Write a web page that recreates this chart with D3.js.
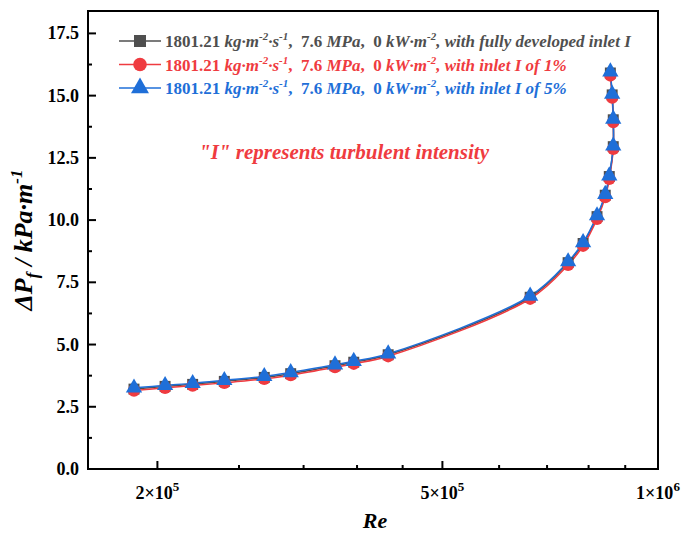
<!DOCTYPE html>
<html>
<head>
<meta charset="utf-8">
<script src="https://cdn.jsdelivr.net/npm/d3@7"></script>
<style>
  body { margin: 0; background: #fff; }
  svg { font-family: "Times New Roman", "Liberation Serif", serif; }
</style>
</head>
<body>
<svg width="683" height="536"></svg>
<script>
// Reynolds number (x) and friction pressure drop (y, kPa/m)
const re = [1.855e5, 2.05e5, 2.24e5, 2.48e5, 2.82e5, 3.07e5, 3.54e5, 3.76e5, 4.2e5,
            6.63e5, 7.49e5, 7.86e5, 8.22e5, 8.44e5, 8.55e5, 8.66e5, 8.66e5, 8.63e5, 8.58e5];
const dpFully = [3.21, 3.32, 3.40, 3.52, 3.68, 3.83, 4.15, 4.29, 4.59,
                 6.90, 8.29, 9.06, 10.14, 11.0, 11.75, 12.95, 14.03, 15.03, 15.91];
const dpI1 = [3.15, 3.26, 3.35, 3.46, 3.62, 3.77, 4.09, 4.23, 4.53,
              6.84, 8.20, 8.97, 10.05, 10.92, 11.66, 12.86, 13.94, 14.92, 15.81];
const dpI5 = [3.26, 3.36, 3.44, 3.56, 3.72, 3.88, 4.19, 4.33, 4.63,
              6.95, 8.33, 9.10, 10.18, 11.04, 11.78, 12.98, 14.06, 15.06, 15.96];

const xTicks = [2e5, 5e5, 1e6];
const xMinor = [2.6e5, 3.2e5, 3.8e5, 4.4e5, 6e5, 7e5, 8e5, 9e5];
const yTicks = [0, 2.5, 5, 7.5, 10, 12.5, 15, 17.5];

const legendTail = ["with fully developed inlet I", "with inlet I of 1%", "with inlet I of 5%"];

const series = [
  { y: dpFully, color: "#4f4f4f", symbol: d3.symbolSquare, size: 120, tail: legendTail[0] },
  { y: dpI1, color: "#ef3b40", symbol: d3.symbolCircle, size: 120, tail: legendTail[1] },
  { y: dpI5, color: "#1f6fd8", symbol: d3.symbolTriangle, size: 115, tail: legendTail[2] }
];

const svg = d3.select("svg");
const pLeft = 88, pRight = 658, pTop = 11, pBottom = 469;

const x = d3.scaleLog().domain([1.6e5, 1e6]).range([pLeft, pRight]);
const y = d3.scaleLinear().domain([0, 18.4]).range([pBottom, pTop]);

// frame
svg.append("rect")
  .attr("x", pLeft).attr("y", pTop)
  .attr("width", pRight - pLeft).attr("height", pBottom - pTop)
  .attr("fill", "none").attr("stroke", "#000").attr("stroke-width", 2);

// x axis ticks (inward)
const xAxis = svg.append("g");
xAxis.selectAll(".maj").data(xTicks).enter().append("line")
  .attr("x1", d => x(d)).attr("x2", d => x(d))
  .attr("y1", pBottom).attr("y2", pBottom - 8)
  .attr("stroke", "#000").attr("stroke-width", 2);
xAxis.selectAll(".min").data(xMinor).enter().append("line")
  .attr("x1", d => x(d)).attr("x2", d => x(d))
  .attr("y1", pBottom).attr("y2", pBottom - 4)
  .attr("stroke", "#000").attr("stroke-width", 2);
const xl = xAxis.selectAll(".lab").data(xTicks).enter().append("text")
  .attr("x", d => x(d)).attr("y", pBottom + 30)
  .attr("text-anchor", "middle")
  .style("font-size", "18px").style("font-weight", "bold");
xl.append("tspan").text(d => {
  const e = Math.floor(Math.log10(d) + 1e-9);
  return Math.round(d / Math.pow(10, e)) + "×10";
});
xl.append("tspan").attr("dy", -8).style("font-size", "13px")
  .text(d => Math.floor(Math.log10(d) + 1e-9));

// y axis ticks
const yAxis = svg.append("g");
yAxis.selectAll(".maj").data(yTicks).enter().append("line")
  .attr("x1", pLeft).attr("x2", pLeft + 8)
  .attr("y1", d => y(d)).attr("y2", d => y(d))
  .attr("stroke", "#000").attr("stroke-width", 2);
yAxis.selectAll(".min").data(yTicks.slice(0, -1).map(d => d + 1.25)).enter().append("line")
  .attr("x1", pLeft).attr("x2", pLeft + 4)
  .attr("y1", d => y(d)).attr("y2", d => y(d))
  .attr("stroke", "#000").attr("stroke-width", 2);
yAxis.selectAll(".lab").data(yTicks).enter().append("text")
  .attr("x", pLeft - 9).attr("y", d => y(d) + 6)
  .attr("text-anchor", "end")
  .style("font-size", "18px").style("font-weight", "bold")
  .text(d => d.toFixed(1));

// axis titles
svg.append("text")
  .attr("x", (pLeft + pRight) / 2 + 2).attr("y", 528)
  .attr("text-anchor", "middle")
  .style("font-size", "22px").style("font-weight", "bold").style("font-style", "italic")
  .text("Re");

const yt = svg.append("text")
  .attr("transform", "translate(32," + 240 + ") rotate(-90)")
  .attr("text-anchor", "middle")
  .style("font-size", "26px").style("font-weight", "bold").style("font-style", "italic");
yt.append("tspan").text("ΔP");
yt.append("tspan").attr("dy", 6).style("font-size", "17px").text("f");
yt.append("tspan").attr("dy", -6).text(" / kPa·m");
yt.append("tspan").attr("dy", -10).style("font-size", "17px").text("-1");

// lines and markers
const line = d3.line()
  .x((d, i) => x(re[i]))
  .y(d => y(d))
  .curve(d3.curveCatmullRom.alpha(0.5));

series.forEach(s => {
  svg.append("path")
    .attr("d", line(s.y))
    .attr("fill", "none")
    .attr("stroke", s.color)
    .attr("stroke-width", 1.5);
});
series.forEach(s => {
  svg.append("g").selectAll("path").data(s.y).enter().append("path")
    .attr("d", d3.symbol().type(s.symbol).size(s.size))
    .attr("transform", (d, i) => `translate(${x(re[i])},${y(d)})`)
    .attr("fill", s.color);
});

// legend
function legendText(g, tail) {
  const parts = [
    ["1801.21 ", "n"], ["kg·m", "i"], ["-2", "sup"], ["·s", "i"], ["-1", "sup"],
    [",  7.6 ", "n"], ["MPa", "i"], [",  0 ", "n"], ["kW·m", "i"], ["-2", "sup"],
    [", " + tail, "i"]
  ];
  const t = g.append("text")
    .attr("xml:space", "preserve")
    .style("white-space", "pre")
    .style("font-size", "17px").style("font-weight", "bold");
  let raised = false;
  parts.forEach(p => {
    const ts = t.append("tspan").text(p[0]);
    if (p[1] === "sup") {
      ts.attr("dy", -7).style("font-size", "11px").style("font-style", "italic");
      raised = true;
    } else {
      if (raised) { ts.attr("dy", 7); raised = false; }
      ts.style("font-style", p[1] === "i" ? "italic" : "normal");
    }
  });
  return t;
}

series.forEach((s, k) => {
  const ly = 41 + k * 23.5;
  const g = svg.append("g").attr("fill", s.color);
  g.append("line")
    .attr("x1", 119).attr("x2", 161).attr("y1", ly).attr("y2", ly)
    .attr("stroke", s.color).attr("stroke-width", 1.5);
  g.append("path")
    .attr("d", d3.symbol().type(s.symbol).size(s.size + 25))
    .attr("transform", `translate(140,${ly})`);
  legendText(g, s.tail).attr("x", 165).attr("y", ly + 6);
});

// annotation
svg.append("text")
  .attr("x", 344).attr("y", 159)
  .attr("text-anchor", "middle")
  .attr("fill", "#ef3b40")
  .style("font-size", "21px").style("font-weight", "bold").style("font-style", "italic")
  .text("\"I\" represents turbulent intensity");
</script>
</body>
</html>
